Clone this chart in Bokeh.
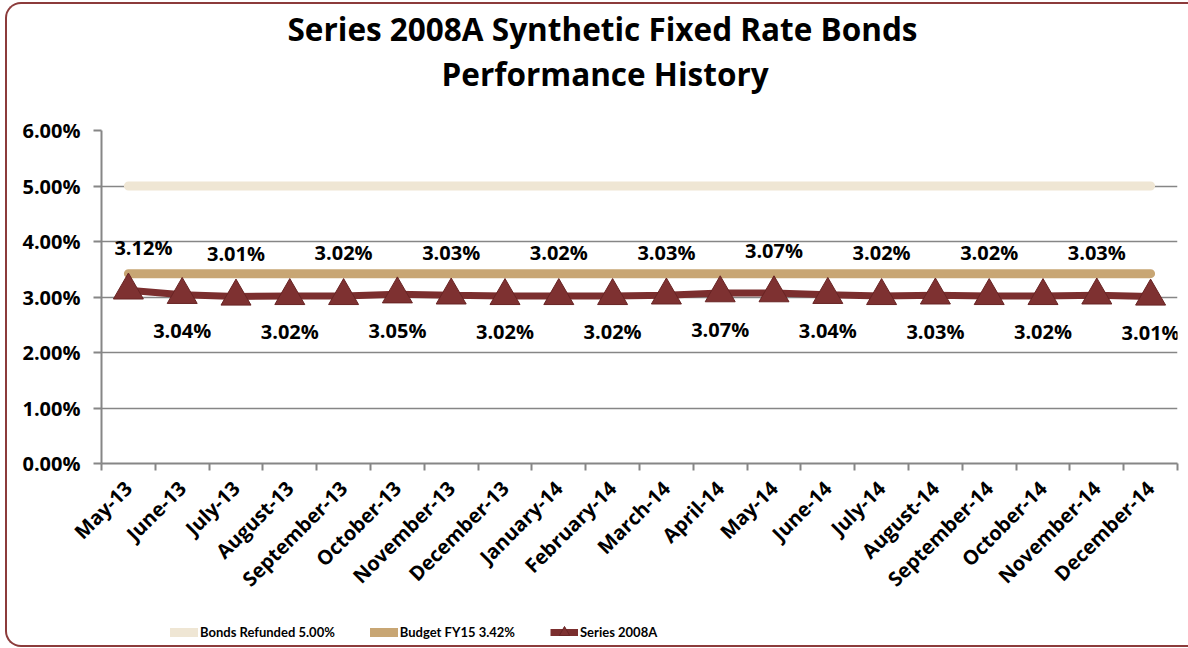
import math
from bokeh.plotting import figure
from bokeh.layouts import column
from bokeh.models import (ColumnDataSource, FixedTicker, PrintfTickFormatter, Range1d,
                          LabelSet, Legend, LegendItem, Title)
from bokeh.core.properties import value
from bokeh.embed import file_html
from bokeh.resources import INLINE

# ---------------- data ----------------
MONTHS = ["May-13", "June-13", "July-13", "August-13", "September-13", "October-13",
          "November-13", "December-13", "January-14", "February-14", "March-14",
          "April-14", "May-14", "June-14", "July-14", "August-14", "September-14",
          "October-14", "November-14", "December-14"]
SERIES_2008A = [3.12, 3.04, 3.01, 3.02, 3.02, 3.05, 3.03, 3.02, 3.02, 3.02,
                3.03, 3.07, 3.07, 3.04, 3.02, 3.03, 3.02, 3.02, 3.03, 3.01]
BONDS_REFUNDED = [5.00, 5.00, 5.00, 5.00, 5.00, 5.00, 5.00, 5.00, 5.00, 5.00,
                  5.00, 5.00, 5.00, 5.00, 5.00, 5.00, 5.00, 5.00, 5.00, 5.00]
BUDGET_FY15 = [3.42, 3.42, 3.42, 3.42, 3.42, 3.42, 3.42, 3.42, 3.42, 3.42,
               3.42, 3.42, 3.42, 3.42, 3.42, 3.42, 3.42, 3.42, 3.42, 3.42]
Y_TICKS = [0, 1, 2, 3, 4, 5, 6]
TITLE_1 = "Series 2008A Synthetic Fixed Rate Bonds"
TITLE_2 = "Performance History"
LEGEND_LABELS = ["Bonds Refunded 5.00%", "Budget FY15 3.42%", "Series 2008A"]

# ---------------- styles ----------------
FONT = "Open Sans"
LEGEND_FONT = "Lato"
GRID = "#868686"
C_BONDS = "#EFE6D4"
C_BUDGET = "#C8A674"
C_SERIES = "#7B2E2E"
C_MARK = "#7E3131"
C_MARK_LINE = "#682424"
C_BORDER = "#8C3B3B"

n = len(MONTHS)
xs = list(range(n))

src = ColumnDataSource(dict(
    x=xs,
    y=SERIES_2008A,
    lbl=["%.2f%%" % v for v in SERIES_2008A],
    # labels alternate above / below the points; the first one is nudged
    # clear of the value axis, as in the original
    yoff=[43 if i % 2 == 0 else -36 for i in range(n)],
    xoff=[15 if i == 0 else 0 for i in range(n)],
))

W = 1181
H_MAIN = 601
H_LEG = 40

p = figure(width=W, height=H_MAIN, x_range=Range1d(-0.5, n - 0.5), y_range=Range1d(0, 6),
           output_backend="svg", toolbar_location=None,
           min_border_left=94, min_border_right=11, min_border_top=126, min_border_bottom=142)
p.border_fill_alpha = 0
p.background_fill_color = "white"
p.outline_line_color = None

# titles (first added sits closest to the plot); a blank spacer keeps them up
p.add_layout(Title(text=" ", text_font_size="10px", standoff=23), "above")
p.add_layout(Title(text=TITLE_2, align="left", offset=340, text_font=FONT,
                   text_font_style="bold", text_font_size="31.5px", text_color="black",
                   standoff=0), "above")
p.add_layout(Title(text=TITLE_1, align="left", offset=186, text_font=FONT,
                   text_font_style="bold", text_font_size="31.5px", text_color="black",
                   standoff=0), "above")

# y axis
p.yaxis.ticker = FixedTicker(ticks=Y_TICKS)
p.yaxis.formatter = PrintfTickFormatter(format="%.2f%%")
p.yaxis.axis_line_color = GRID
p.yaxis.axis_line_width = 2
p.yaxis.major_tick_line_color = GRID
p.yaxis.major_tick_line_width = 2
p.yaxis.major_tick_out = 8
p.yaxis.major_tick_in = 0
p.yaxis.minor_tick_line_color = None
p.yaxis.major_label_standoff = 13
p.yaxis.major_label_text_font = FONT
p.yaxis.major_label_text_font_style = "bold"
p.yaxis.major_label_text_font_size = "20px"
p.yaxis.major_label_text_color = "black"

# x axis: labels at category centres, tick marks between categories
p.xaxis.ticker = FixedTicker(ticks=xs, minor_ticks=[i - 0.5 for i in range(n + 1)])
p.xaxis.major_label_overrides = {i: m for i, m in zip(xs, MONTHS)}
p.xaxis.major_label_orientation = math.pi / 4
p.xaxis.axis_line_color = GRID
p.xaxis.axis_line_width = 2
p.xaxis.major_tick_line_color = None
p.xaxis.major_tick_out = 7
p.xaxis.major_tick_in = 0
p.xaxis.minor_tick_line_color = GRID
p.xaxis.minor_tick_line_width = 2
p.xaxis.minor_tick_out = 7
p.xaxis.minor_tick_in = 0
p.xaxis.major_label_standoff = 14
p.xaxis.major_label_text_font = FONT
p.xaxis.major_label_text_font_style = "bold"
p.xaxis.major_label_text_font_size = "20px"
p.xaxis.major_label_text_color = "black"

p.xgrid.visible = False
p.ygrid.grid_line_color = GRID
p.ygrid.grid_line_width = 1.5

# series
p.line(xs, BONDS_REFUNDED, line_color=C_BONDS, line_width=9, line_cap="round")
p.line(xs, BUDGET_FY15, line_color=C_BUDGET, line_width=9, line_cap="round")
p.line("x", "y", source=src, line_color=C_SERIES, line_width=7)
p.scatter("x", "y", source=src, marker="triangle", size=30,
          fill_color=C_MARK, line_color=C_MARK_LINE, line_width=1)

labels = LabelSet(x="x", y="y", text="lbl", x_offset="xoff", y_offset="yoff", source=src,
                  text_font=value(FONT), text_font_style="bold", text_font_size="20px",
                  text_align="center", text_baseline="middle", text_color="black")
p.add_layout(labels)

# ---------------- legend strip under the chart ----------------
# (its frame is aligned with the chart frame by the column layout; the series
#  drawn here fall outside its y range, so only the legend shows)
lg = figure(width=W, height=H_LEG, x_range=Range1d(-0.5, n - 0.5), y_range=Range1d(-2, -1),
            output_backend="svg", toolbar_location=None,
            x_axis_type=None, y_axis_type=None,
            min_border_left=0, min_border_right=0, min_border_top=0, min_border_bottom=0)
lg.border_fill_alpha = 0
lg.background_fill_alpha = 0
lg.outline_line_color = None
lg.xgrid.visible = False
lg.ygrid.visible = False
g_bonds = lg.line(xs, BONDS_REFUNDED, line_color=C_BONDS, line_width=9, line_cap="round")
g_budget = lg.line(xs, BUDGET_FY15, line_color=C_BUDGET, line_width=9, line_cap="round")
g_series = lg.line(xs, SERIES_2008A, line_color=C_SERIES, line_width=7)
g_marks = lg.scatter(xs, SERIES_2008A, marker="triangle", size=30,
                     fill_color=C_MARK, line_color=C_MARK_LINE, line_width=1)
legend = Legend(items=[LegendItem(label=LEGEND_LABELS[0], renderers=[g_bonds]),
                       LegendItem(label=LEGEND_LABELS[1], renderers=[g_budget]),
                       LegendItem(label=LEGEND_LABELS[2], renderers=[g_series, g_marks])],
                orientation="horizontal", location=(69, 0), spacing=35,
                glyph_width=28, glyph_height=26, label_height=16, label_standoff=2,
                padding=0, margin=0, border_line_color=None, background_fill_alpha=0,
                label_text_font=LEGEND_FONT, label_text_font_style="bold",
                label_text_font_size="13px", label_text_color="black")
lg.add_layout(legend)

page = column(p, lg, spacing=0)
page.styles = {
    "margin-left": "5px",
    "margin-top": "2px",
    "border-left": "2px solid " + C_BORDER,
    "border-top": "2px solid " + C_BORDER,
    "border-bottom": "2px solid " + C_BORDER,
    "border-top-left-radius": "16px",
    "border-bottom-left-radius": "16px",
}

open("out.html", "w").write(file_html(page, INLINE))
